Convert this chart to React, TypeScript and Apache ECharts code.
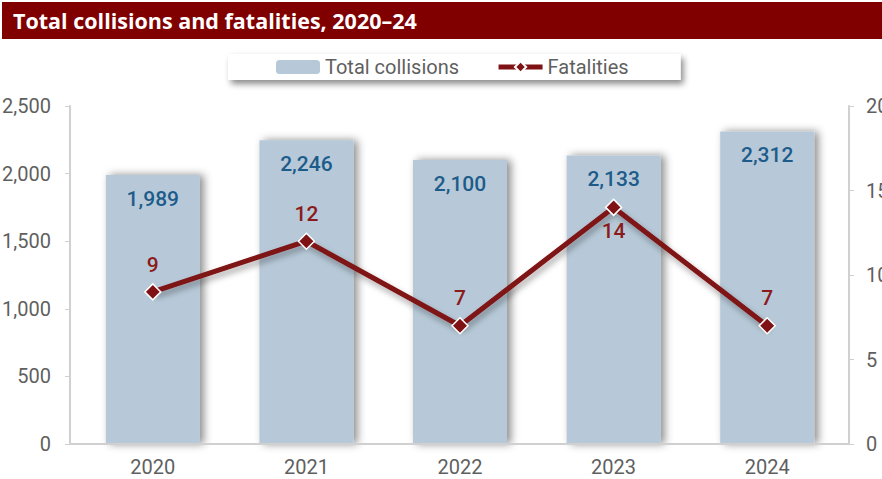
import React, { useEffect, useRef } from "react";
import * as echarts from "echarts";

const years = ["2020", "2021", "2022", "2023", "2024"];
const totalCollisions = [1989, 2246, 2100, 2133, 2312];
const fatalities = [9, 12, 7, 14, 7];
const fatalityLabelPos = ["top", "top", "top", "bottom", "top"];
const titleText = "Total collisions and fatalities, 2020\u201324";

const FONT = "Roboto, 'Open Sans', sans-serif";

export default function App() {
  const ref = useRef<HTMLDivElement>(null);
  useEffect(() => {
    document.body.style.margin = "0";
    const chart = echarts.init(ref.current!, null, { renderer: "svg" });
    const axisGray = "#d0d0d0";
    const labelGray = "#5f5f5f";
    chart.setOption({
      animation: false,
      backgroundColor: "#ffffff",
      textStyle: { fontFamily: FONT },
      graphic: [
        { type: "rect", shape: { x: 2, y: 2, width: 880, height: 37 }, style: { fill: "#800000" }, z: 0 },
        {
          type: "text",
          x: 13,
          y: 20,
          style: { text: titleText, fill: "#ffffff", font: `bold 21.5px 'Open Sans', sans-serif`, textVerticalAlign: "middle" },
          z: 1,
        },
        { type: "line", shape: { x1: 70, y1: 444, x2: 849, y2: 444 }, style: { stroke: axisGray, lineWidth: 2 }, z: 5 },
      ],
      legend: {
        left: 228,
        top: 54,
        padding: [3, 52, 3, 48],
        itemGap: 37,
        itemWidth: 44,
        itemHeight: 14,
        backgroundColor: "#ffffff",
        shadowColor: "rgba(0,0,0,0.45)",
        shadowBlur: 6,
        shadowOffsetX: 3,
        shadowOffsetY: 4,
        textStyle: { fontSize: 20, color: labelGray, fontFamily: FONT },
        data: [
          { name: "Total collisions" },
          { name: "Fatalities", lineStyle: { width: 5, color: "#7f1214" } },
        ],
      },
      grid: { left: 76, right: 38, top: 106, bottom: 35, outerBoundsMode: "none" },
      xAxis: {
        type: "category",
        data: years,
        axisLine: { show: false },
        axisTick: { show: false },
        axisLabel: { fontSize: 20, color: labelGray, margin: 13 },
      },
      yAxis: [
        {
          type: "value",
          min: 0,
          max: 2500,
          interval: 500,
          offset: 6,
          splitLine: { show: false },
          axisLine: { show: true, lineStyle: { color: axisGray, width: 2 } },
          axisTick: { show: true, length: 5, lineStyle: { color: axisGray, width: 1 } },
          axisLabel: {
            fontSize: 20,
            color: labelGray,
            margin: 19,
            formatter: (v: number) => v.toLocaleString("en-US"),
          },
        },
        {
          type: "value",
          min: 0,
          max: 20,
          interval: 5,
          offset: 5,
          position: "right",
          splitLine: { show: false },
          axisLine: { show: true, lineStyle: { color: axisGray, width: 2 } },
          axisTick: { show: true, length: 5, lineStyle: { color: axisGray, width: 1 } },
          axisLabel: { fontSize: 20, color: labelGray, margin: 17 },
        },
      ],
      series: [
        {
          name: "Total collisions",
          type: "bar",
          yAxisIndex: 0,
          barWidth: 94,
          data: totalCollisions,
          itemStyle: {
            color: "#b7c9d8",
            shadowColor: "rgba(0,0,0,0.45)",
            shadowBlur: 8,
            shadowOffsetX: 4,
            shadowOffsetY: 0,
          },
          label: {
            show: true,
            position: "insideTop",
            distance: 13,
            fontSize: 21,
            fontWeight: 500,
            color: "#1d5c8a",
            formatter: (p: any) => Number(p.value).toLocaleString("en-US"),
          },
          z: 2,
        },
        {
          name: "Fatalities",
          type: "line",
          yAxisIndex: 1,
          data: fatalities.map((v, i) => ({
            value: v,
            label: { position: fatalityLabelPos[i], distance: fatalityLabelPos[i] === "bottom" ? 4 : 8 },
          })),
          symbol: "diamond",
          symbolSize: 16,
          lineStyle: {
            color: "#7f1214",
            width: 5,
            shadowColor: "rgba(0,0,0,0.35)",
            shadowBlur: 6,
            shadowOffsetX: 2,
            shadowOffsetY: 4,
          },
          itemStyle: {
            color: "#7f1214",
            borderColor: "#ffffff",
            borderWidth: 1.5,
          },
          label: {
            show: true,
            fontSize: 21,
            fontWeight: 500,
            color: "#8b1a1a",
            distance: 8,
          },
          z: 3,
        },
      ],
    });
    return () => chart.dispose();
  }, []);
  return <div ref={ref} style={{ position: "fixed", left: 0, top: 0, width: 882, height: 479 }} />;
}
